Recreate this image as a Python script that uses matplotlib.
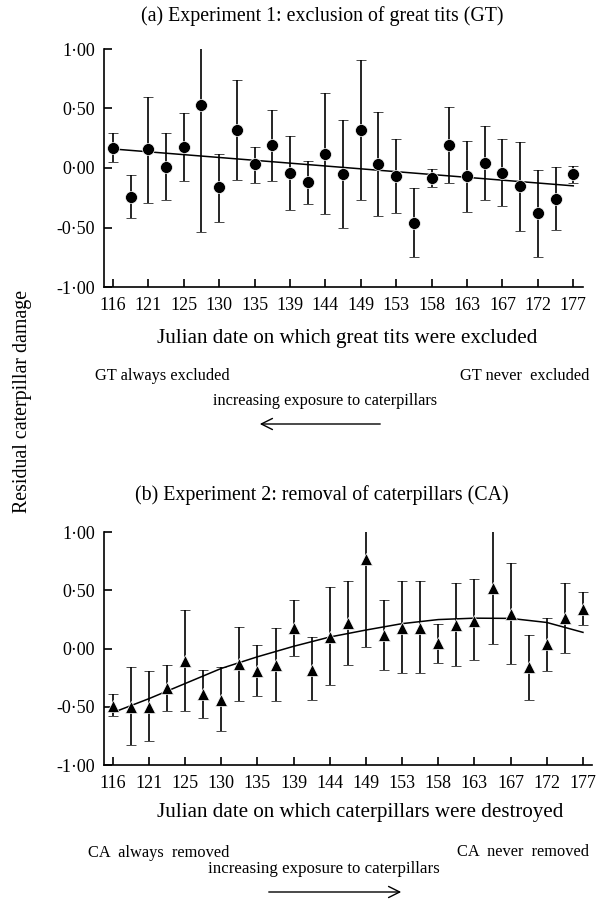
import matplotlib
matplotlib.use('Agg')
import matplotlib.pyplot as plt
import numpy as np
from matplotlib.ticker import FuncFormatter

plt.rcParams['font.family'] = ['Liberation Serif', 'DejaVu Serif']

# julian dates shown on the x axis (every second sampling date)
date_labels = [116, 121, 125, 130, 135, 139, 144, 149, 153, 158, 163, 167, 172, 177]

# Experiment 1: exclusion of great tits
gt_mean = [0.17, -0.24, 0.16, 0.01, 0.18, 0.53, -0.16, 0.32, 0.03, 0.19, -0.04, -0.12, 0.12, -0.05,
           0.32, 0.03, -0.07, -0.46, -0.08, 0.19, -0.07, 0.04, -0.04, -0.15, -0.38, -0.26, -0.05]
gt_upper = [0.29, -0.06, 0.60, 0.29, 0.46, 1.60, 0.12, 0.74, 0.18, 0.49, 0.27, 0.06, 0.63, 0.40,
            0.91, 0.47, 0.24, -0.17, -0.01, 0.51, 0.23, 0.35, 0.24, 0.22, -0.02, 0.01, 0.02]
gt_lower = [0.05, -0.42, -0.29, -0.27, -0.11, -0.54, -0.45, -0.10, -0.13, -0.11, -0.35, -0.30, -0.39, -0.50,
            -0.27, -0.40, -0.38, -0.75, -0.16, -0.13, -0.37, -0.27, -0.32, -0.53, -0.75, -0.52, -0.13]
gt_fit = [0.16, -0.15]  # regression line at first and last date

# Experiment 2: removal of caterpillars
ca_mean = [-0.49, -0.50, -0.50, -0.34, -0.11, -0.39, -0.44, -0.13, -0.19, -0.14, 0.18, -0.18, 0.10, 0.22,
           0.77, 0.12, 0.18, 0.18, 0.05, 0.20, 0.24, 0.52, 0.30, -0.16, 0.04, 0.26, 0.34]
ca_upper = [-0.39, -0.16, -0.19, -0.14, 0.33, -0.18, -0.16, 0.19, 0.03, 0.18, 0.42, 0.10, 0.53, 0.58,
            1.53, 0.42, 0.58, 0.58, 0.21, 0.56, 0.60, 1.02, 0.74, 0.12, 0.26, 0.56, 0.49]
ca_lower = [-0.58, -0.83, -0.79, -0.54, -0.54, -0.60, -0.71, -0.45, -0.41, -0.45, -0.06, -0.44, -0.31, -0.14,
            0.01, -0.18, -0.21, -0.21, -0.12, -0.15, -0.10, 0.04, -0.13, -0.44, -0.19, -0.04, 0.20]
# fitted curve read at every labelled date
ca_fit = [-0.55, -0.43, -0.30, -0.17, -0.07, 0.02, 0.10, 0.16, 0.215, 0.25, 0.262, 0.26, 0.225, 0.14]

W, H = 596, 902


def fx(px):
    return px / W


def fy(py):
    return 1 - py / H


def dot_fmt(v, pos):
    return '{:.2f}'.format(v).replace('.', '·')


def panel(ax, mean, upper, lower, marker, ms):
    x = np.arange(len(mean))
    mean = np.array(mean)
    yerr = [mean - np.array(lower), np.array(upper) - mean]
    ax.errorbar(x, mean, yerr=yerr, fmt=marker, color='black', ms=ms, mec='white', mew=0.5,
                ecolor='black', elinewidth=1.2, capsize=3.8, capthick=1.2, zorder=3)
    ax.set_ylim(-1, 1)
    ax.set_yticks([-1, -0.5, 0, 0.5, 1])
    ax.yaxis.set_major_formatter(FuncFormatter(dot_fmt))
    ax.set_xticks(np.arange(0, len(mean), 2))
    ax.set_xticklabels(date_labels)
    ax.spines['top'].set_visible(False)
    ax.spines['right'].set_visible(False)
    for s in ['left', 'bottom']:
        ax.spines[s].set_linewidth(1.2)
    ax.tick_params(direction='in', length=6, width=1.2, labelsize=13)
    ax.tick_params(axis='x', pad=7)
    ax.tick_params(axis='y', pad=6)


fig = plt.figure(figsize=(W / 100, H / 100), dpi=100)

ax1 = fig.add_axes([fx(103.7), fy(287), (583 - 103.7) / W, (287 - 49) / H])
panel(ax1, gt_mean, gt_upper, gt_lower, 'o', 8.6)
ax1.set_xlim(-0.52, 26.55)
ax1.plot([0, len(gt_mean) - 1], gt_fit, color='black', lw=1.1, zorder=2)

ax2 = fig.add_axes([fx(103.7), fy(765), (592 - 103.7) / W, (765 - 532.3) / H])
panel(ax2, ca_mean, ca_upper, ca_lower, '^', 9)
ax2.set_xlim(-0.5, 26.5)
ax2.plot(np.arange(0, len(ca_mean), 2), ca_fit, color='black', lw=1.1, zorder=2)

# titles and labels
fig.text(fx(322), fy(16), '(a) Experiment 1: exclusion of great tits (GT)', ha='center', va='center', fontsize=14.3)
fig.text(fx(347), fy(338), 'Julian date on which great tits were excluded', ha='center', va='center', fontsize=15.1)
fig.text(fx(322), fy(495), '(b) Experiment 2: removal of caterpillars (CA)', ha='center', va='center', fontsize=14.3)
fig.text(fx(360), fy(813), 'Julian date on which caterpillars were destroyed', ha='center', va='center', fontsize=15.1)
fig.text(fx(23), fy(401), 'Residual caterpillar damage', ha='center', va='center', rotation=90, fontsize=14.3)

# annotations panel (a)
fig.text(fx(95), fy(376), 'GT always excluded', ha='left', va='center', fontsize=11.8)
fig.text(fx(589), fy(376), 'GT never  excluded', ha='right', va='center', fontsize=11.8)
fig.text(fx(213), fy(401), 'increasing exposure to caterpillars', ha='left', va='center', fontsize=11.8)
fig.patches.append(matplotlib.patches.FancyArrowPatch(
    (fx(383), fy(424)), (fx(257), fy(424)), transform=fig.transFigure,
    arrowstyle='->,head_length=8,head_width=4', lw=1.0, color='black'))

# annotations panel (b)
fig.text(fx(88), fy(853), 'CA  always  removed', ha='left', va='center', fontsize=11.8)
fig.text(fx(589), fy(852), 'CA  never  removed', ha='right', va='center', fontsize=11.8)
fig.text(fx(208), fy(869), 'increasing exposure to caterpillars', ha='left', va='center', fontsize=12.2)
fig.patches.append(matplotlib.patches.FancyArrowPatch(
    (fx(266), fy(892)), (fx(404), fy(892)), transform=fig.transFigure,
    arrowstyle='->,head_length=8,head_width=4', lw=1.0, color='black'))

fig.savefig('out.png', dpi=100)
